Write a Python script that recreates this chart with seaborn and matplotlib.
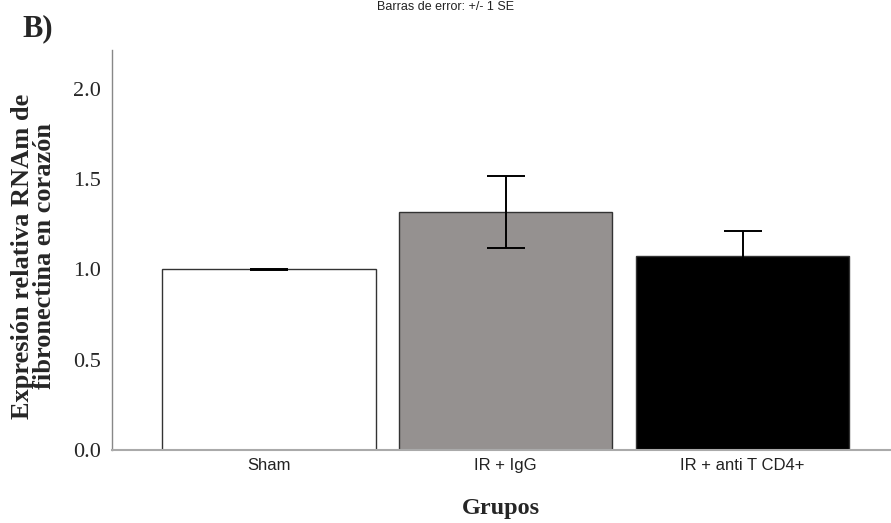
import matplotlib
matplotlib.use("Agg")
import matplotlib.pyplot as plt
import seaborn as sns
import pandas as pd

groups = ["Sham", "IR + IgG", "IR + anti T CD4+"]
means = [1.0, 1.32, 1.075]
se = [0.005, 0.20, 0.137]
bar_colors = ["#FFFFFF", "#96918F", "#000000"]
yticks = [0.0, 0.5, 1.0, 1.5, 2.0]

sns.set_style("white")
plt.rcParams['font.family'] = ['Liberation Serif', 'DejaVu Serif']

df = pd.DataFrame({"Grupos": groups, "valor": means})

fig = plt.figure(figsize=(8.91, 5.23), dpi=100)
ax = fig.add_axes([0.1254, 0.1396, 0.8746, 0.7648])

sns.barplot(data=df, x="Grupos", y="valor", hue="Grupos", palette=bar_colors,
            order=groups, hue_order=groups, legend=False, width=0.9,
            edgecolor="#333333", linewidth=1.0, ax=ax, errorbar=None)

xs = ax.get_xticks()
ax.errorbar(xs, means, yerr=se, fmt="none", ecolor="#000000",
            elinewidth=1.4, capsize=14, capthick=1.4, zorder=5)

ax.set_xlim(-0.664, 2.627)
ax.set_ylim(0, 2.215)
ax.set_yticks(yticks)
ax.set_yticklabels([f"{v:.1f}" for v in yticks], fontsize=16,
                   family=['Liberation Serif'])
ax.set_xticks(xs)
ax.set_xticklabels(groups, fontsize=12, family=['Liberation Sans'],
                   color="#222222")
ax.tick_params(axis='both', length=0, pad=6)
ax.tick_params(axis='y', pad=8)

for s in ["top", "right"]:
    ax.spines[s].set_visible(False)
ax.spines["left"].set_color("#888888")
ax.spines["bottom"].set_color("#aaaaaa")
ax.spines["left"].set_linewidth(1.0)
ax.spines["bottom"].set_linewidth(1.5)

ax.set_xlabel("Grupos", fontsize=17.5, fontweight="bold", labelpad=18,
              family=['Liberation Serif'])
ax.set_ylabel("Expresión relativa RNAm de\nfibronectina en corazón",
              fontsize=19, fontweight="bold",
              family=['Liberation Serif'], linespacing=0.95)
ax.yaxis.set_label_coords(-0.071, 0.485)

fig.text(0.025, 0.945, "B)", fontsize=22, fontweight="bold",
         family=['Liberation Serif'], ha="left", va="center")
fig.text(0.50, 1 - 7/523, "Barras de error: +/- 1 SE", fontsize=9,
         family=['Liberation Sans'], ha="center", va="center", color="#222222")

fig.savefig("out.png", dpi=100)
